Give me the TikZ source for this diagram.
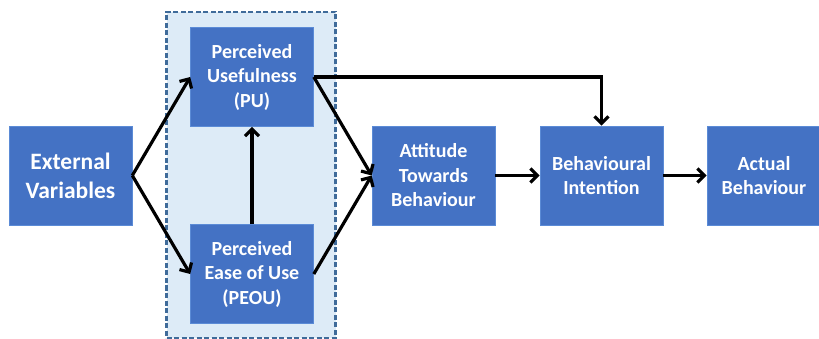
\documentclass[tikz,border=0pt]{standalone}
\usepackage{fontspec}
\setmainfont{Carlito}
\usetikzlibrary{arrows.meta}
\definecolor{boxblue}{HTML}{4472C4}
\definecolor{boxedge}{HTML}{5B8BD6}
\definecolor{groupfill}{HTML}{DDEBF7}
\definecolor{groupedge}{HTML}{3F6B9A}
\tikzset{
  tambox/.style={draw=boxedge, line width=0.6pt, fill=boxblue, text=white, font=\bfseries\fontsize{20}{24.5}\selectfont, align=center, inner sep=0pt, minimum width=123pt, minimum height=99pt},
  conn/.style={line width=3.2pt, -{Straight Barb[length=7pt,width=14pt,line width=3.2pt]}},
}
\begin{document}
\begin{tikzpicture}[x=1pt,y=-1pt]
\useasboundingbox (0,0) rectangle (819,339);
\fill[white] (0,0) rectangle (819,339);
\node[draw=groupedge, fill=groupfill, line width=2.5pt, dash pattern=on 5pt off 2.5pt, minimum width=169pt, minimum height=326pt, inner sep=0pt] (grp) at (251,175) {};
\node[tambox, font=\bfseries\fontsize{23.5}{29}\selectfont] (ev) at (70.5,175.5) {External\\Variables};
\node[tambox] (pu) at (252,77) {Perceived\\Usefulness\\(PU)};
\node[tambox] (peou) at (252,274) {Perceived\\Ease of Use\\(PEOU)};
\node[tambox] (att) at (433.5,175.5) {Attitude\\Towards\\Behaviour};
\node[tambox] (bi) at (601.5,175.5) {Behavioural\\Intention};
\node[tambox, minimum width=114pt] (ab) at (764,175.5) {Actual\\Behaviour};
\draw[conn] (ev.east) -- (pu.west);
\draw[conn] (ev.east) -- (peou.west);
\draw[conn] (peou.north) -- (pu.south);
\draw[conn] (pu.east) -- (att.west);
\draw[conn] (peou.east) -- (att.west);
\draw[conn] (pu.east) -| (bi.north);
\draw[conn] (att.east) -- (bi.west);
\draw[conn] (bi.east) -- (ab.west);
\end{tikzpicture}
\end{document}
